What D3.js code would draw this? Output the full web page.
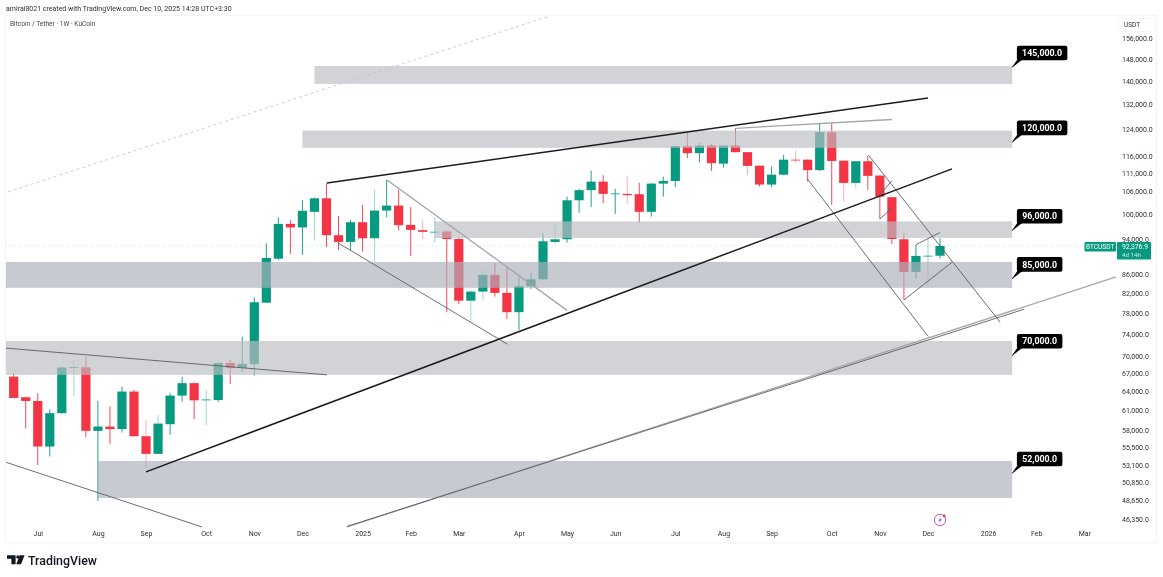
<!DOCTYPE html>
<html lang="en">
<head>
<meta charset="utf-8">
<title>BTCUSDT 1W</title>
<style>
  html, body { margin: 0; background: #fff; }
  svg { display: block; filter: blur(0.3px); }
  text { font-family: Roboto, "Liberation Sans", sans-serif; }
</style>
<script src="https://cdn.jsdelivr.net/npm/d3@7"></script>
</head>
<body>
<div id="chart"></div>
<script>
// weekly candles, starting at the week of 2024-06-17
var opens = [66410,63040,62450,55660,60550,67900,68000,57910,58540,58160,63950,57130,54640,58890,63300,65320,62600,62600,68750,67850,68530,80050,89460,97670,96800,100690,104200,94920,93320,98080,94190,101020,102290,97420,96130,95700,95820,94020,80450,82320,85870,82050,78150,83450,84920,93320,93950,103670,106360,108670,105400,105360,105280,100690,108130,108860,118860,116770,119040,113730,119040,117070,113130,107870,110600,114870,114870,111870,123130,114580,108320,114410,110340,104480,93950,86520,90080,90130];
var highs = [67040,63140,63700,61170,68020,69260,69860,62490,61570,64760,64230,59520,60290,63700,66410,65400,64230,68800,69260,73460,81150,93020,99330,98640,103750,104640,108240,99660,98640,102470,106440,109130,106440,101920,98470,99330,96130,94430,82400,86970,88430,87900,85500,86310,95440,97670,104640,106710,111750,110450,106710,110270,108400,108200,110080,118900,123320,119840,119540,119100,124380,117100,113150,112890,116270,117550,114900,125980,125980,114600,114600,115970,110400,104500,95480,92690,93950,94190];
var lows = [62900,58250,53130,54270,60500,63250,56990,48540,56030,57660,57070,52700,54600,57320,62340,59630,58790,62300,65150,67260,66580,80000,89160,90550,90310,93620,92090,91470,91310,91080,88780,99330,96030,90080,93950,93160,78150,79730,76300,80590,81280,76820,74700,82880,84850,92690,93160,100460,101890,102910,100170,102730,97980,99480,104640,107170,115290,114020,111660,112600,117000,110450,107340,107170,110450,114020,108670,111600,102470,103320,106890,106440,98890,92780,80590,84990,83720,89460];
var closes = [62920,62450,55660,60550,67950,68000,57910,58540,58160,63950,57130,54640,58980,63300,65320,62550,62680,68750,67850,68580,80130,89620,97670,96800,100950,104200,94920,93320,98080,94190,101020,102290,97350,96200,95720,95750,94020,80450,82320,85870,82050,78150,83450,84920,93480,93950,103670,106360,108670,105360,105480,105010,100690,108130,108860,118860,116770,119040,113850,119040,117070,113080,107870,110600,114870,114700,111870,123130,114500,108320,114410,110270,104640,94020,86520,90080,90130,92376.9];
// wicks that come out pale in the picture
var paleWicks = [5,11,12,16,25,30,34,35,38,39,45,51,61,65,69,70,76];

var priceTicks = [156000,148000,140000,132000,124000,116000,111000,106000,100000,94000,86000,82000,78000,74000,70000,67000,64000,61000,58000,55500,53100,50850,48650,46350];
var monthLabels = ["Jul","Aug","Sep","Oct","Nov","Dec","2025","Feb","Mar","Apr","May","Jun","Jul","Aug","Sep","Oct","Nov","Dec","2026","Feb","Mar"];
var monthWeeks = [2,7,11,16,20,24,29,33,37,42,46,50,55,59,63,68,72,76,81,85,89];

// supply / demand boxes: start week, top price, bottom price, label price
var zoneStarts = [25,24,35,-0.64,-0.64,7];
var zoneEnd = 83;
var zoneTops = [145530,123630,98280,88720,72670,53670];
var zoneBottoms = [139100,118350,94270,83100,66700,48880];
var zoneLabels = [145000,120000,96000,85000,70000,52000];
var zoneFills = ["#bcbec2","#bcbec2","#bcbec2","#adb0ba","#bcbec2","#adb0ba"];

// trend lines: [week, price] pairs
var faintDashLine = [[-0.47,105900],[44.58,165120]];
var blackLines = [
  [[26.04,108320],[76,134240]],
  [[11,52210],[78,112230]]
];
var greyLines = [
  [[60.04,124320],[73,127140]],
  [[31.03,109130],[46,78500]],
  [[27.7,45430],[91.64,85420]]
];
var darkLines = [
  [[27,93020],[41.03,72080]],
  [[-0.64,71364],[26.04,66710]],
  [[-0.64,53490],[15.65,45430]],
  [[27.7,45480],[84,78740]],
  [[66,109330],[76.03,73470]],
  [[71.04,116270],[82,76190]],
  [[72,105100],[73,108940]],
  [[72,98890],[73,101630]],
  [[74,80590],[78,88650]],
  [[75,92690],[77,95550]]
];

var lastPrice = 92376.9;
var green = "#089981", red = "#f23645";

var x = d3.scaleLinear().domain([0,77]).range([13.7,940]);
var y = d3.scaleLog().domain([46350,156000]).range([519,38.5]);
var bodyW = 9.2;

var svg = d3.select("#chart").append("svg").attr("width",1163).attr("height",577);

// frame
svg.append("rect").attr("x",5.5).attr("y",15.5).attr("width",1151).attr("height",527.5)
  .attr("fill","none").attr("stroke","#f3f4f7");

svg.append("text").attr("x",6).attr("y",10.5).attr("font-size",7).attr("fill","#2a2e39")
  .text("amiral8021 created with TradingView.com, Dec 10, 2025 14:28 UTC+3:30");
svg.append("text").attr("x",10).attr("y",26).attr("font-size",6.6).attr("fill","#434651")
  .text("Bitcoin / Tether · 1W · KuCoin");

// last price line
svg.append("line").attr("x1",6).attr("x2",1085).attr("y1",y(lastPrice)).attr("y2",y(lastPrice))
  .attr("stroke",green).attr("stroke-width",0.5).attr("stroke-dasharray","1 2").attr("opacity",0.4);

// candles
var idx = d3.range(opens.length);
var candles = svg.append("g");
candles.selectAll("line").data(idx).enter().append("line")
  .attr("x1",function(i){return x(i);}).attr("x2",function(i){return x(i);})
  .attr("y1",function(i){return y(highs[i]);}).attr("y2",function(i){return y(lows[i]);})
  .attr("stroke",function(i){return closes[i]>=opens[i]?green:red;})
  .attr("stroke-width",1)
  .attr("opacity",function(i){return paleWicks.indexOf(i)>=0?0.4:0.9;});
candles.selectAll("rect").data(idx).enter().append("rect")
  .attr("x",function(i){return x(i)-bodyW/2;}).attr("width",bodyW)
  .attr("y",function(i){return y(Math.max(opens[i],closes[i]));})
  .attr("height",function(i){return Math.max(0.8,y(Math.min(opens[i],closes[i]))-y(Math.max(opens[i],closes[i])));})
  .attr("fill",function(i){return closes[i]>=opens[i]?green:red;});

// zones sit over the candles
svg.append("g").selectAll("rect").data(zoneTops).enter().append("rect")
  .attr("x",function(d,i){return x(zoneStarts[i]);})
  .attr("width",function(d,i){return x(zoneEnd)-x(zoneStarts[i]);})
  .attr("y",function(d){return y(d);})
  .attr("height",function(d,i){return y(zoneBottoms[i])-y(d);})
  .attr("fill",function(d,i){return zoneFills[i];})
  .attr("opacity",0.67);

// trend lines
var lineGen = d3.line().x(function(d){return x(d[0]);}).y(function(d){return y(d[1]);});
function drawLines(data,color,width,dash){
  svg.append("g").selectAll("path").data(data).enter().append("path")
    .attr("d",lineGen).attr("fill","none").attr("stroke",color)
    .attr("stroke-width",width).attr("stroke-dasharray",dash||null);
}
drawLines([faintDashLine],"#c4c6cb",0.9,"3 3");
drawLines(greyLines,"#a3a5a8",1.3);
drawLines(darkLines,"#5c5e62",0.9);
drawLines(blackLines,"#1c1c1e",1.5);

// price axis
var yAxis = d3.axisRight(y).tickValues(priceTicks).tickFormat(d3.format(",.1f")).tickSize(0).tickPadding(0);
var yG = svg.append("g").attr("transform","translate(1122,0)").call(yAxis);
yG.select(".domain").remove();
yG.selectAll("text").attr("font-size",7).attr("fill","#2a2e39").attr("font-family",null);

// time axis
var xAxis = d3.axisBottom(x).tickValues(monthWeeks)
  .tickFormat(function(d,i){return monthLabels[i];}).tickSize(0).tickPadding(0);
var xG = svg.append("g").attr("transform","translate(0,531.5)").call(xAxis);
xG.select(".domain").remove();
xG.selectAll("text").attr("font-size",7).attr("fill","#2a2e39").attr("font-family",null);

// callouts on the right of each zone
zoneLabels.forEach(function(p){
  var tipX = x(zoneEnd), tipY = y(p);
  var txt = d3.format(",.1f")(p);
  var w = p>=100000 ? 50.5 : 45.5;
  var g = svg.append("g");
  g.append("rect").attr("x",tipX+4.7).attr("y",tipY-21.8).attr("width",w).attr("height",14.6)
    .attr("rx",2).attr("fill","#000");
  g.append("path").attr("d",d3.line()([[tipX,tipY],[tipX+6,tipY-8.5],[tipX+11,tipY-8.5]]))
    .attr("fill","#000").attr("stroke","#000").attr("stroke-width",0.8);
  g.append("text").attr("x",tipX+4.7+w/2).attr("y",tipY-11.3).attr("text-anchor","middle")
    .attr("font-size",8.8).attr("font-weight",700).attr("fill","#fff").text(txt);
});

// USDT box
svg.append("rect").attr("x",1118.5).attr("y",18.5).attr("width",36).attr("height",13)
  .attr("rx",2).attr("fill","#fff").attr("stroke","#f5f6f8");
svg.append("text").attr("x",1124).attr("y",27).attr("font-size",6.5).attr("fill","#2a2e39").text("USDT");

// last price tags
var ly = y(lastPrice);
svg.append("rect").attr("x",1084.5).attr("y",ly-4).attr("width",31.5).attr("height",9.6).attr("rx",1).attr("fill",green);
svg.append("text").attr("x",1100.2).attr("y",ly+3).attr("text-anchor","middle").attr("font-size",6.6).attr("fill","#fff").text("BTCUSDT");
svg.append("rect").attr("x",1117).attr("y",ly-4).attr("width",34).attr("height",17.6).attr("rx",1).attr("fill",green);
svg.append("text").attr("x",1122).attr("y",ly+3).attr("font-size",6.8).attr("fill","#fff").text(d3.format(",.1f")(lastPrice));
svg.append("text").attr("x",1122).attr("y",ly+11).attr("font-size",6.2).attr("fill","#cdeae4").text("4d 14h");

// bolt icon
var bolt = svg.append("g").attr("transform","translate(940,520)");
bolt.append("circle").attr("r",5.7).attr("fill","none").attr("stroke","#b45fd0").attr("stroke-width",1);
bolt.append("path").attr("d","M1.2,-3.4 L-2,0.7 L-0.2,0.7 L-1.2,3.4 L2,-0.7 L0.2,-0.7 Z").attr("fill","#b45fd0");
bolt.append("circle").attr("cx",4.2).attr("cy",-4).attr("r",1.4).attr("fill","#f23645");

// logo
svg.append("path").attr("d","M7,555.3 H15.6 V564.3 H11.4 V558.7 H7 Z M19.8,555.3 H24.6 L21,564.3 H16.2 Z").attr("fill","#131722");
svg.append("circle").attr("cx",17.9).attr("cy",557).attr("r",1.7).attr("fill","#131722");
svg.append("text").attr("x",28).attr("y",564.5).attr("font-size",12.4).attr("font-weight",500)
  .attr("fill","#131722").text("TradingView");
</script>
</body>
</html>
